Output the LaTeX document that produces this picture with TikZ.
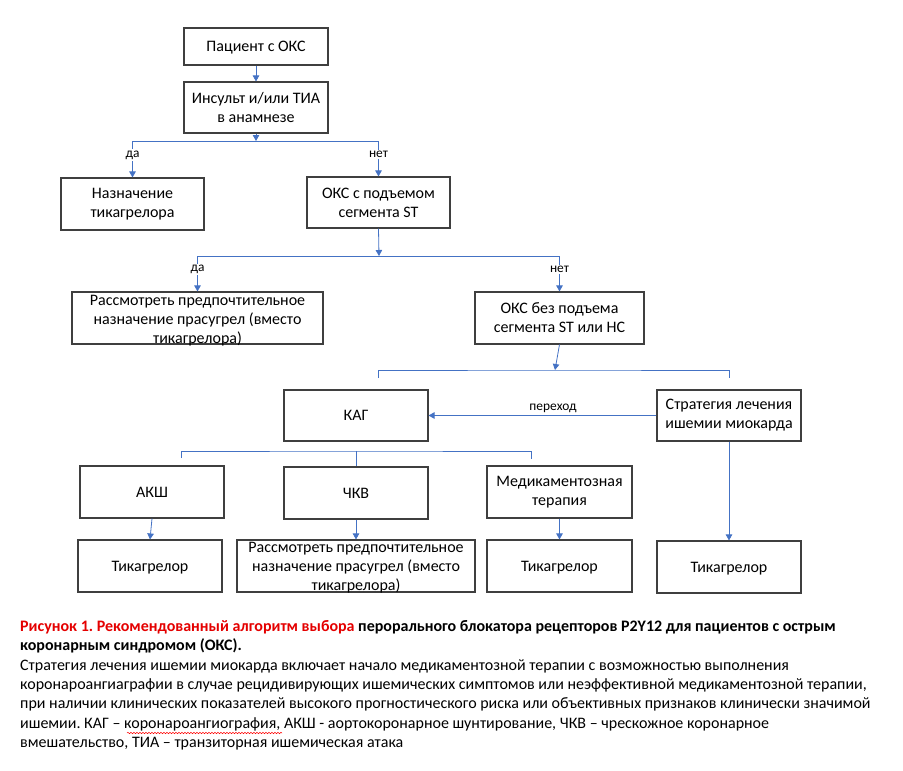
\documentclass[tikz,border=0pt]{standalone}
\usepackage{fontspec}
\setmainfont{Carlito}
\usetikzlibrary{arrows.meta,decorations.pathmorphing}
\definecolor{conn}{HTML}{4472C4}
\definecolor{boxline}{HTML}{3F3F3F}
\definecolor{capred}{RGB}{228,0,0}
\frenchspacing
\begin{document}
\begin{tikzpicture}[x=1pt,y=-1pt,
  every node/.style={font=\fontsize{16}{19}\selectfont},
  box/.style={draw=boxline, line width=1.1pt, inner sep=0pt, align=center,
              minimum width=144pt, minimum height=52pt},
  one/.style={text height=12pt, text depth=1.7pt},
  txt/.style={inner sep=0pt, align=center},
  link/.style={draw=conn, line width=0.8pt},
  arr/.style={link, -{Triangle[length=6pt,width=6.5pt]}},
  lbl/.style={font=\fontsize{13.4}{15}\selectfont, fill=white, inner sep=1.5pt},
  plbl/.style={font=\fontsize{13.4}{15}\selectfont, inner sep=1pt},
  ]
\useasboundingbox (0,0) rectangle (903,771);

% boxes
\node[box, one, minimum height=37pt] (b1) at (256,46.5) {Пациент с ОКС};
\node[box, minimum height=51pt] (b2) at (256,107.5) {Инсульт и/или ТИА\\в анамнезе};
\node[box, minimum width=143pt] (b3) at (132.5,204) {Назначение\\тикагрелора};
\node[box, minimum width=143pt, minimum height=51pt] (b4) at (378.5,202.5) {ОКС с подъемом\\сегмента ST};
\node[box, minimum width=251pt] (b5) at (197.5,318) {};
\node[txt] (t5) at (197.5,320.5) {Рассмотреть предпочтительное\\назначение прасугрел (вместо\\тикагрелора)};
\node[box, minimum width=169pt] (b6) at (559.5,318) {ОКС без подъема\\сегмента ST или НС};
\node[box, one, minimum height=51pt] (b7) at (356,415.5) {КАГ};
\node[box, minimum height=51pt] (b8) at (729,415.5) {Стратегия лечения\\ишемии миокарда};
\node[box, one] (b9) at (152,492) {АКШ};
\node[box, one] (b10) at (356,493) {ЧКВ};
\node[box, minimum width=145pt] (b11) at (559.5,492) {Медикаментозная\\терапия};
\node[box, one] (b12) at (150,566) {Тикагрелор};
\node[box, minimum width=238pt] (b13) at (356,566) {};
\node[txt] (t13) at (356,568) {Рассмотреть предпочтительное\\назначение прасугрел (вместо\\тикагрелора)};
\node[box, one, minimum width=145pt] (b14) at (559.5,566) {Тикагрелор};
\node[box, one] (b15) at (729,567) {Тикагрелор};

% junctions
\coordinate (j1) at (256,141);
\coordinate (j2) at (379,256);
\coordinate (j3) at (555,370);
\coordinate (k1) at (378,378);
\coordinate (k2) at (729,378);
\coordinate (j4) at (356,451);
\coordinate (m1) at (181,458);
\coordinate (m2) at (531,459);

% connectors
\draw[arr] (b1) -- (b2);
\draw[arr] (b2.south) -- (j1);
\draw[arr] (j1) -| node[lbl, pos=0.69] {да} (b3.north);
\draw[arr] (j1) -| node[lbl, pos=0.69] {нет} (b4.north);
\draw[arr] (b4.south) -- (j2);
\draw[arr] (j2) -| node[lbl, pos=0.69] {да} (b5.north);
\draw[arr] (j2) -| node[lbl, pos=0.69] {нет} (b6.north);
\draw[arr] (b6.south) -- (j3);
\draw[link] (k1) |- (j3) -| (k2);
\draw[arr] (b8.west) -- node[plbl, pos=0.454, above=1pt] {переход} (b7.east);
\draw[link] (m1) |- (j4) -| (m2);
\draw[link] (j4) -- (b10.north);
\draw[arr] (b9.south) -- (b12.north);
\draw[arr] (b10) -- (b13);
\draw[arr] (b11) -- (b14);
\draw[arr] (b8) -- (b15);

% caption
\node[anchor=north west, inner sep=0pt, align=left, font=\fontsize{16}{19.4}\selectfont] (cap) at (20,620)
{\textbf{\textcolor{capred}{Рисунок 1. Рекомендованный алгоритм выбора} перорального блокатора рецепторов P2Y12 для пациентов с острым}\\
\textbf{коронарным синдромом (ОКС).}\\
Стратегия лечения ишемии миокарда включает начало медикаментозной терапии с возможностью выполнения\\
коронароангиаграфии в случае рецидивирующих ишемических симптомов или неэффективной медикаментозной терапии,\\
при наличии клинических показателей высокого прогностического риска или объективных признаков клинически значимой\\
ишемии. КАГ – коронароангиография, АКШ - аортокоронарное шунтирование, ЧКВ – чрескожное коронарное\\
вмешательство, ТИА – транзиторная ишемическая атака};
\coordinate (w1) at (127,733);
\coordinate (w2) at (282,733);
\draw[red, line width=0.5pt, decorate, decoration={snake, amplitude=0.7pt, segment length=3pt}] (w1) -- (w2);
\end{tikzpicture}
\end{document}
